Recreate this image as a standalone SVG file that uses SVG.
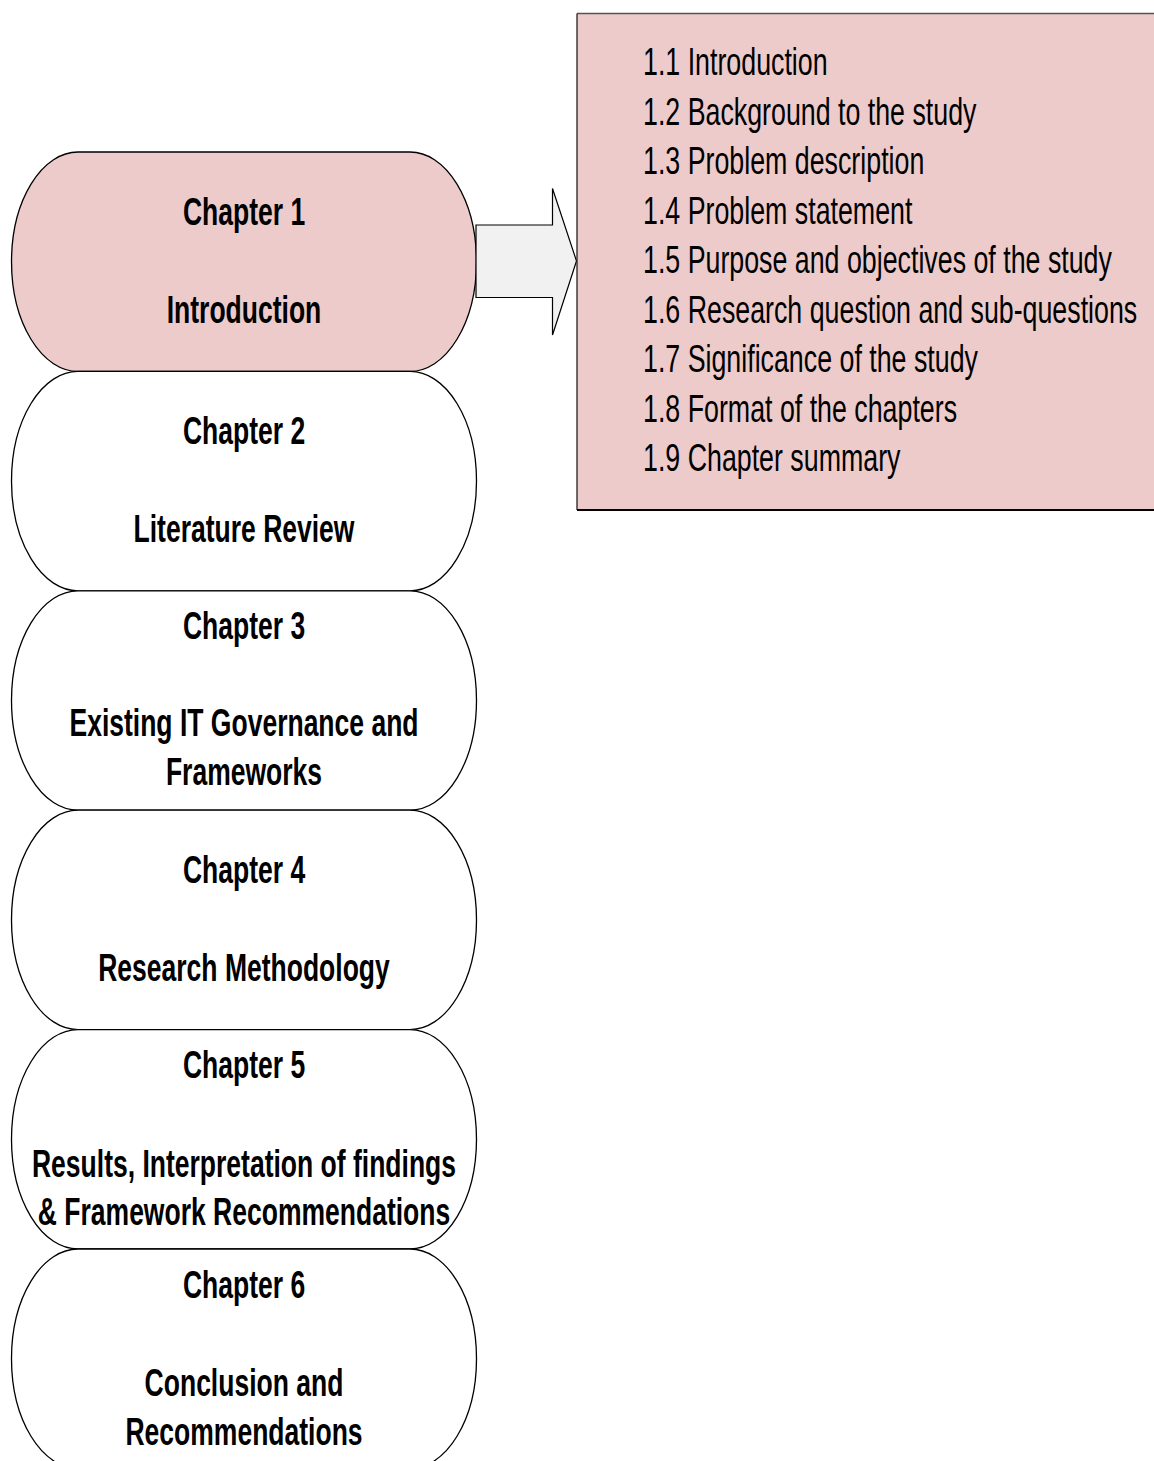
<svg xmlns="http://www.w3.org/2000/svg" width="1154" height="1461" viewBox="0 0 1154 1461">
  <style>
    .chap { stroke: #000; stroke-width: 1.3; fill: #fff; }
    .chap.active { fill: #ECCBCA; }
    .title { font-family: "Liberation Sans", Arial, sans-serif; font-weight: bold; font-size: 39px; fill: #000; text-anchor: middle; }
    .item { font-family: "Liberation Sans", Arial, sans-serif; font-size: 39px; fill: #000; }
    .arrow { fill: #F1F1F1; stroke: #000; stroke-width: 1.2; }
  </style>
  <rect width="1154" height="1461" fill="#fff"/>

  <!-- chapter stack -->
  <g id="chapter1">
    <path class="chap active" d="M78,152 H410 A66.5,109.7 0 0 1 410,371.4 H78 A66.5,109.7 0 0 1 78,152 Z"/>
    <text class="title" transform="translate(244,225) scale(0.68,1)">Chapter 1</text>
    <text class="title" transform="translate(244,323) scale(0.68,1)">Introduction</text>
  </g>
  <g id="chapter2">
    <path class="chap" d="M78,371.4 H410 A66.5,109.7 0 0 1 410,590.8 H78 A66.5,109.7 0 0 1 78,371.4 Z"/>
    <text class="title" transform="translate(244,444) scale(0.68,1)">Chapter 2</text>
    <text class="title" transform="translate(244,542) scale(0.68,1)">Literature Review</text>
  </g>
  <g id="chapter3">
    <path class="chap" d="M78,590.8 H410 A66.5,109.7 0 0 1 410,810.2 H78 A66.5,109.7 0 0 1 78,590.8 Z"/>
    <text class="title" transform="translate(244,639) scale(0.68,1)">Chapter 3</text>
    <text class="title" transform="translate(244,736) scale(0.68,1)">Existing IT Governance and</text>
    <text class="title" transform="translate(244,785) scale(0.68,1)">Frameworks</text>
  </g>
  <g id="chapter4">
    <path class="chap" d="M78,810.2 H410 A66.5,109.7 0 0 1 410,1029.6 H78 A66.5,109.7 0 0 1 78,810.2 Z"/>
    <text class="title" transform="translate(244,883) scale(0.68,1)">Chapter 4</text>
    <text class="title" transform="translate(244,981) scale(0.68,1)">Research Methodology</text>
  </g>
  <g id="chapter5">
    <path class="chap" d="M78,1029.6 H410 A66.5,109.7 0 0 1 410,1249 H78 A66.5,109.7 0 0 1 78,1029.6 Z"/>
    <text class="title" transform="translate(244,1078) scale(0.68,1)">Chapter 5</text>
    <text class="title" transform="translate(244,1177) scale(0.68,1)">Results, Interpretation of findings</text>
    <text class="title" transform="translate(244,1225) scale(0.68,1)">&amp; Framework Recommendations</text>
  </g>
  <g id="chapter6">
    <path class="chap" d="M78,1249 H410 A66.5,109.7 0 0 1 410,1468.4 H78 A66.5,109.7 0 0 1 78,1249 Z"/>
    <text class="title" transform="translate(244,1298) scale(0.68,1)">Chapter 6</text>
    <text class="title" transform="translate(244,1396) scale(0.68,1)">Conclusion and</text>
    <text class="title" transform="translate(244,1445) scale(0.68,1)">Recommendations</text>
  </g>

  <!-- block arrow from chapter 1 to its contents -->
  <g id="connectors">
    <path class="arrow" d="M476,225 H552.5 V188.5 L576.5,261 L552.5,335 V297.5 H476 Z"/>
  </g>

  <!-- chapter 1 contents -->
  <g id="contents">
    <rect x="577" y="13.5" width="580" height="496.5" fill="#ECCBCA"/>
    <path d="M1156,13.5 H577" fill="none" stroke="#555" stroke-width="1.6"/>
    <path d="M577,13.5 V510" fill="none" stroke="#222" stroke-width="1.3"/>
    <path d="M577,510 H1156" fill="none" stroke="#000" stroke-width="2"/>
    <text class="item" transform="translate(643,75) scale(0.687,1)">1.1 Introduction</text>
    <text class="item" transform="translate(643,124.5) scale(0.687,1)">1.2 Background to the study</text>
    <text class="item" transform="translate(643,174) scale(0.687,1)">1.3 Problem description</text>
    <text class="item" transform="translate(643,223.5) scale(0.687,1)">1.4 Problem statement</text>
    <text class="item" transform="translate(643,273) scale(0.687,1)">1.5 Purpose and objectives of the study</text>
    <text class="item" transform="translate(643,322.5) scale(0.687,1)">1.6 Research question and sub-questions</text>
    <text class="item" transform="translate(643,372) scale(0.687,1)">1.7 Significance of the study</text>
    <text class="item" transform="translate(643,421.5) scale(0.687,1)">1.8 Format of the chapters</text>
    <text class="item" transform="translate(643,471) scale(0.687,1)">1.9 Chapter summary</text>
  </g>
</svg>
